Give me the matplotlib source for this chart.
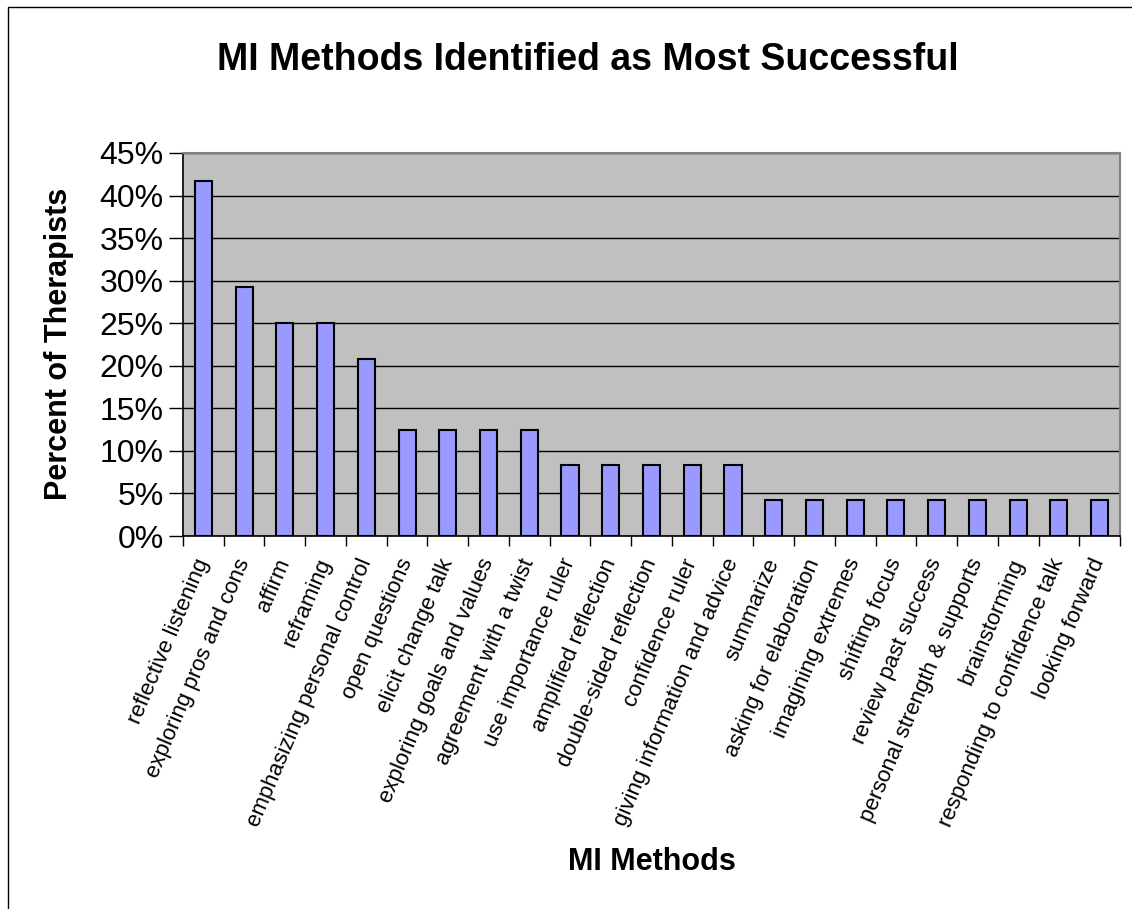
import matplotlib
matplotlib.use("Agg")
import matplotlib.pyplot as plt
from matplotlib.ticker import FixedLocator, PercentFormatter
from matplotlib.patches import Rectangle
import numpy as np

# data (24 therapists -> steps of ~4.2%)
methods = [
    "reflective listening", "exploring pros and cons", "affirm", "reframing",
    "emphasizing personal control", "open questions", "elicit change talk",
    "exploring goals and values", "agreement with a twist", "use importance ruler",
    "amplified reflection", "double-sided reflection", "confidence ruler",
    "giving information and advice", "summarize", "asking for elaboration",
    "imagining extremes", "shifting focus", "review past success",
    "personal strength & supports", "brainstorming", "responding to confidence talk",
    "looking forward",
]
percent = [
    41.7, 29.2, 25.0, 25.0, 20.8, 12.5, 12.5, 12.5, 12.5, 8.3, 8.3, 8.3, 8.3,
    8.3, 4.2, 4.2, 4.2, 4.2, 4.2, 4.2, 4.2, 4.2, 4.2,
]
y_ticks = [0, 5, 10, 15, 20, 25, 30, 35, 40, 45]

plt.rcParams['font.family'] = ['Liberation Sans', 'DejaVu Sans']

W, H = 1132, 909
fig = plt.figure(figsize=(W / 100, H / 100), dpi=100)
fig.patch.set_facecolor("white")

# outer chart border (only left/top visible in the reference)
fig.patches.append(Rectangle((8 / W, -0.2), 1.2, 1.2 - 7 / H,
                             transform=fig.transFigure, fill=False,
                             edgecolor="black", linewidth=1.0))

ax = fig.add_axes([183 / W, 1 - 536 / H, 937 / W, 383 / H])
ax.set_facecolor("#C0C0C0")

x = np.arange(len(methods))
ax.bar(x, percent, width=0.42, color="#9999FF", edgecolor="black",
       linewidth=1.5, zorder=3)

ax.set_xlim(-0.5, len(methods) - 0.5)
ax.set_ylim(0, 45)
ax.yaxis.set_major_locator(FixedLocator(y_ticks))
ax.yaxis.set_major_formatter(PercentFormatter(decimals=0))
ax.grid(axis="y", color="black", linewidth=1.0, zorder=1)
ax.tick_params(axis="y", direction="out", length=10, width=1, labelsize=23, pad=4)

# tick marks between categories, labels at the centres
ax.set_xticks(x)
ax.set_xticks(np.arange(-0.5, len(methods)), minor=True)
ax.tick_params(axis="x", which="major", length=0, pad=17)
ax.tick_params(axis="x", which="minor", direction="out", length=7, width=1)
ax.set_xticklabels(methods, rotation=67, ha="right", va="center",
                   rotation_mode="anchor", fontsize=16)

for side in ("top", "right"):
    ax.spines[side].set_color("#808080")
    ax.spines[side].set_linewidth(1.5)
for side in ("left", "bottom"):
    ax.spines[side].set_color("black")
    ax.spines[side].set_linewidth(1.2)

fig.text(588 / W, 1 - 60 / H, "MI Methods Identified as Most Successful",
         ha="center", va="center", fontsize=27, fontweight="bold")
fig.text(59 / W, 1 - 344 / H, "Percent of Therapists", rotation=90,
         ha="center", va="center", fontsize=22, fontweight="bold")
fig.text(652 / W, 1 - 862 / H, "MI Methods", ha="center", va="center",
         fontsize=22, fontweight="bold")

fig.savefig("out.png", dpi=100)
